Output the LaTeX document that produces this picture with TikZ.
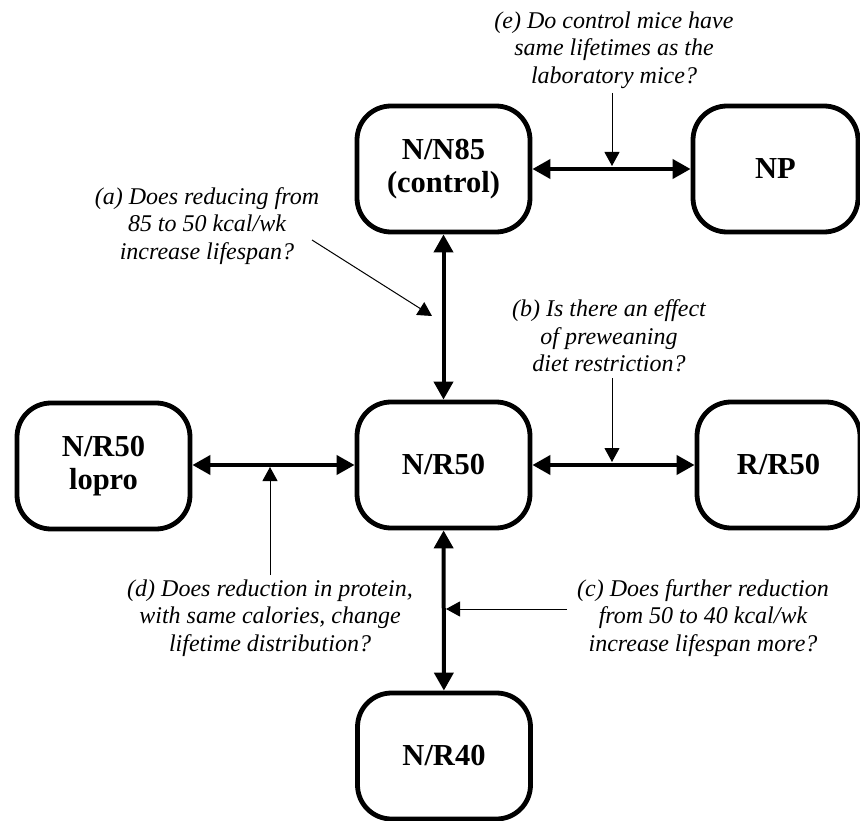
\documentclass[tikz,border=0pt]{standalone}
\usepackage{fontspec}
\setmainfont{Liberation Serif}
\usetikzlibrary{arrows.meta}
\tikzset{
  box/.style={draw, line width=4.8pt, rounded corners=34pt, minimum width=173pt, minimum height=126pt, align=center, inner sep=0pt, font=\fontsize{30.5}{33}\selectfont\bfseries},
  qtext/.style={align=center, inner sep=0pt, font=\fontsize{24}{27.5}\selectfont\itshape},
  mainarrow/.style={line width=4pt, {Triangle[length=18pt,width=19pt]}-{Triangle[length=18pt,width=19pt]}},
  pointer/.style={line width=1pt, -{Triangle[length=14pt,width=15pt]}}
}
\begin{document}
\begin{tikzpicture}[x=1pt,y=-1pt]
\useasboundingbox (0,0) rectangle (860,821);
% boxes
\node[box] (n85) at (443.5,169) {N/N85\\(control)};
\node[box, minimum width=165pt] (np) at (775.5,169) {NP};
\node[box] (r50) at (443.5,465) {N/R50};
\node[box] (lopro) at (103.5,466) {N/R50\\lopro};
\node[box, minimum width=163pt] (rr50) at (778.5,465) {R/R50};
\node[box] (r40) at (444,756) {N/R40};
% main arrows
\draw[mainarrow] (n85) -- (np);
\draw[mainarrow] (n85) -- (r50);
\draw[mainarrow] (lopro.east |- r50) -- (r50);
\draw[mainarrow] (r50) -- (rr50);
\draw[mainarrow] (r50) -- (r40);
% questions
\node[qtext] (qe) at (614,50) {(e) Do control mice have\\same lifetimes as the\\laboratory mice?};
\node[qtext] (qa) at (207,226) {(a) Does reducing from\\85 to 50 kcal/wk\\increase lifespan?};
\node[qtext] (qb) at (609,336) {(b) Is there an effect\\of preweaning\\diet restriction?};
\node[qtext] (qd) at (270,618) {(d) Does reduction in protein,\\with same calories, change\\lifetime distribution?};
\node[qtext] (qc) at (703,618) {(c) Does further reduction\\from 50 to 40 kcal/wk\\increase lifespan more?};
% pointer coordinates
\coordinate (eS) at (612,93);
\coordinate (eT) at (612,166);
\coordinate (aS) at (312,240);
\coordinate (aT) at (432,316);
\coordinate (bS) at (612,378);
\coordinate (bT) at (612,462);
\coordinate (dS) at (270,575);
\coordinate (dT) at (270,467);
\coordinate (cS) at (567,609);
\coordinate (cT) at (446,609);
\draw[pointer] (eS) -- (eT);
\draw[pointer] (aS) -- (aT);
\draw[pointer] (bS) -- (bT);
\draw[pointer] (dS) -- (dT);
\draw[pointer] (cS) -- (cT);
\end{tikzpicture}
\end{document}
